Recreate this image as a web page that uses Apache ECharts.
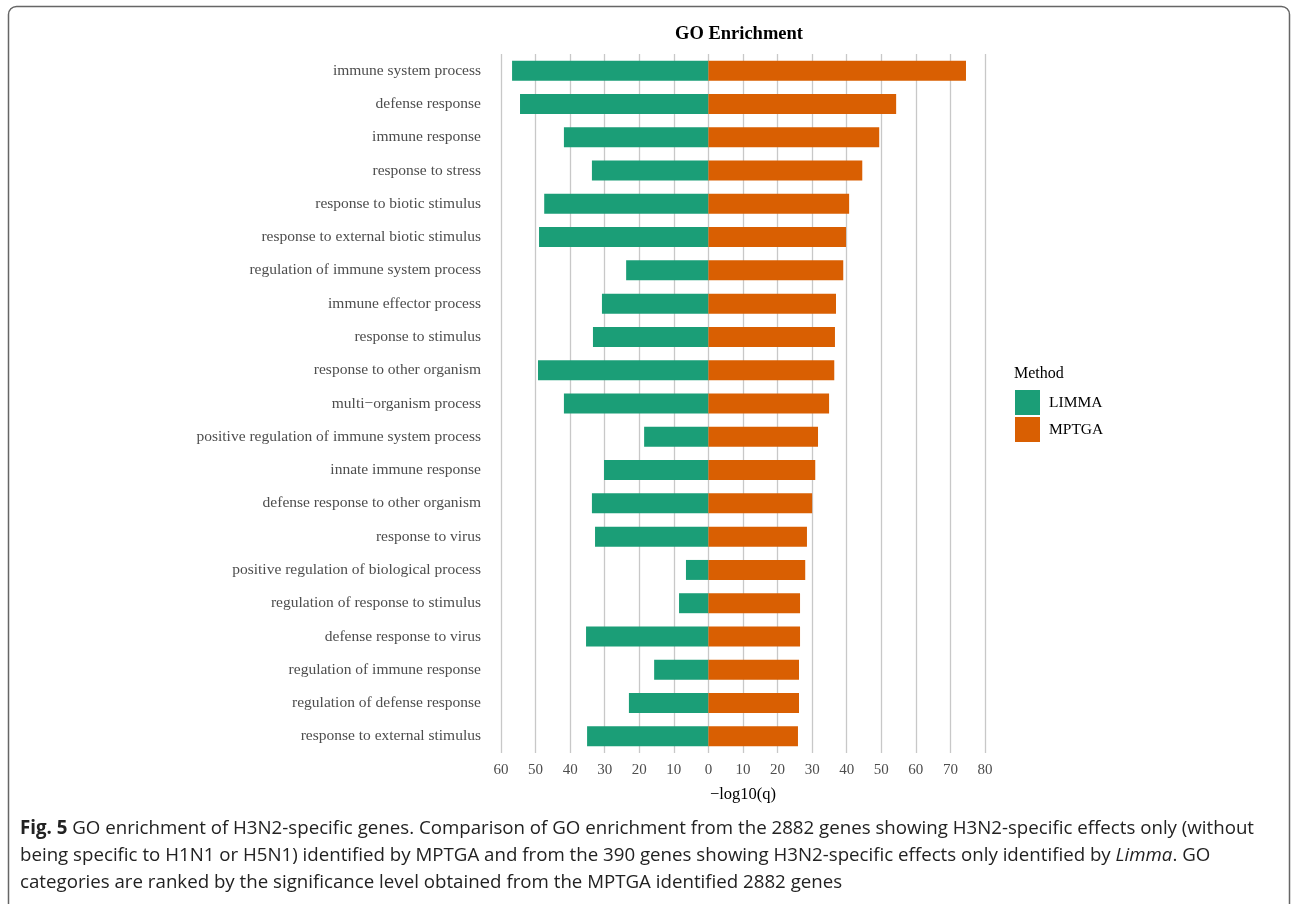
<!DOCTYPE html>
<html>
<head>
<meta charset="utf-8">
<script src="https://cdn.jsdelivr.net/npm/echarts@6/dist/echarts.min.js"></script>
<style>
  html, body { margin: 0; padding: 0; background: #fff; }
  #main { width: 1292px; height: 904px; }
</style>
</head>
<body>
<div id="main"></div>
<script>
var categories = [
  'immune system process', 'defense response', 'immune response', 'response to stress',
  'response to biotic stimulus', 'response to external biotic stimulus',
  'regulation of immune system process', 'immune effector process', 'response to stimulus',
  'response to other organism', 'multi\u2212organism process',
  'positive regulation of immune system process', 'innate immune response',
  'defense response to other organism', 'response to virus',
  'positive regulation of biological process', 'regulation of response to stimulus',
  'defense response to virus', 'regulation of immune response',
  'regulation of defense response', 'response to external stimulus'
];
var limma = [56.8, 54.5, 41.8, 33.7, 47.5, 49.0, 23.8, 30.8, 33.4, 49.3, 41.8,
             18.6, 30.2, 33.7, 32.8, 6.5, 8.5, 35.4, 15.7, 23.0, 35.1];
var mptga = [74.5, 54.3, 49.4, 44.5, 40.7, 39.8, 39.0, 36.9, 36.6, 36.4, 34.9,
             31.7, 30.9, 30.0, 28.5, 28.0, 26.5, 26.5, 26.2, 26.2, 25.9];
var xTicks = { min: -60, max: 80, interval: 10 };

var serif = '"Liberation Serif", "DejaVu Serif", serif';
var capFont = '"Open Sans", sans-serif';
var chart = echarts.init(document.getElementById('main'));

var option = {
  animation: false,
  backgroundColor: '#fff',
  legend: {
    orient: 'vertical',
    left: 1010, top: 385,
    itemWidth: 25, itemHeight: 25, itemGap: 2,
    icon: 'rect',
    data: ['LIMMA', 'MPTGA'],
    textStyle: { fontFamily: serif, fontSize: 15.5, color: '#000', padding: [0, 0, 0, 4] }
  },
  grid: { left: 501, right: 307, top: 54, bottom: 151 },
  xAxis: {
    type: 'value',
    min: xTicks.min, max: xTicks.max, interval: xTicks.interval,
    name: '\u2212log10(q)',
    nameLocation: 'middle', nameGap: 33,
    nameTextStyle: { fontFamily: serif, fontSize: 16.5, color: '#000' },
    axisLine: { show: false },
    axisTick: { show: false },
    axisLabel: {
      fontFamily: serif, fontSize: 15, color: '#4d4d4d', margin: 10,
      formatter: function (v) { return Math.abs(v); }
    },
    splitLine: { lineStyle: { color: '#c8c8c8', width: 1.3 } }
  },
  yAxis: {
    type: 'category',
    data: categories,
    inverse: true,
    axisLine: { show: false },
    axisTick: { show: false },
    axisLabel: { fontFamily: serif, fontSize: 15.5, color: '#4d4d4d', margin: 20 },
    splitLine: { show: false }
  },
  series: [
    {
      name: 'LIMMA', type: 'bar', stack: 'go', barWidth: '60%',
      itemStyle: { color: '#1b9e77' },
      data: limma.map(function (v) { return -v; })
    },
    {
      name: 'MPTGA', type: 'bar', stack: 'go', barWidth: '60%',
      itemStyle: { color: '#d95f02' },
      data: mptga
    }
  ],
  graphic: [
    {
      type: 'rect', silent: true,
      shape: { x: 8.5, y: 6.5, width: 1281, height: 940, r: 8 },
      style: { fill: 'none', stroke: '#666', lineWidth: 1.5 }
    },
    {
      type: 'text', x: 739, y: 34,
      style: {
        text: 'GO Enrichment', font: 'bold 18.5px ' + serif, fill: '#000',
        textAlign: 'center', textVerticalAlign: 'middle'
      }
    },
    {
      type: 'text', left: 1014, top: 366,
      style: { text: 'Method', font: '16px ' + serif, fill: '#000' }
    },
    {
      type: 'text', left: 20, top: 815,
      style: {
        text: '{b|Fig. 5} GO enrichment of H3N2-specific genes. Comparison of GO enrichment from the 2882 genes showing H3N2-specific effects only (without\n' +
              'being specific to H1N1 or H5N1) identified by MPTGA and from the 390 genes showing H3N2-specific effects only identified by {i|Limma}. GO\n' +
              'categories are ranked by the significance level obtained from the MPTGA identified 2882 genes',
        font: '18.7px ' + capFont,
        fill: '#222',
        lineHeight: 27,
        rich: {
          b: { fontWeight: 'bold', fontFamily: capFont, fontSize: 18.7, fill: '#222', lineHeight: 27 },
          i: { fontStyle: 'italic', fontFamily: capFont, fontSize: 18.7, fill: '#222', lineHeight: 27 }
        }
      }
    }
  ]
};

chart.setOption(option);
window.addEventListener('resize', function () { chart.resize(); });
</script>
</body>
</html>
